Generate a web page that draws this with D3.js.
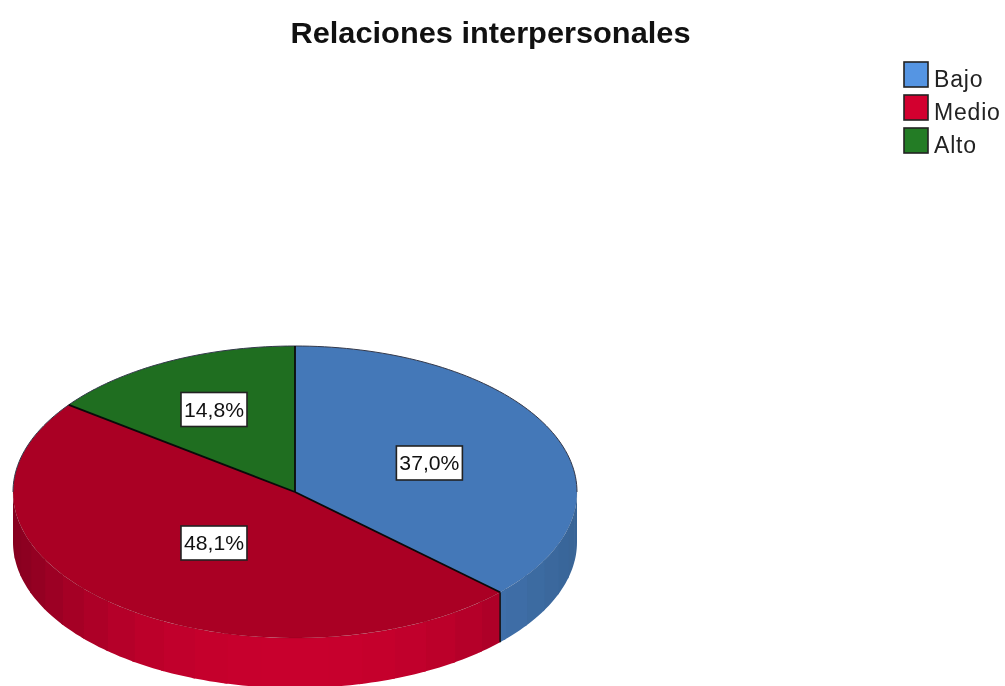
<!DOCTYPE html>
<html><head><meta charset="utf-8">
<script src="https://cdn.jsdelivr.net/npm/d3@7"></script>
<style>html,body{margin:0;padding:0;background:#fff;overflow:hidden}svg{display:block;filter:blur(0.45px)}text{font-family:"Liberation Sans",Arial,sans-serif}</style>
</head><body><svg id="c" width="1005" height="686"></svg>
<script>
const titleText = "Relaciones interpersonales";
const categories = ["Bajo", "Medio", "Alto"];
const values = [37.0, 48.1, 14.8];
const labels = ["37,0%", "48,1%", "14,8%"];
const legendColors = ["#5595E3", "#D3002F", "#237C25"];
const topColors = ["#4478B8", "#AA0024", "#1F6E20"];
const wallFront = ["#4478B8", "#C8002D", "#1F6E20"];
const wallSide = ["#386496", "#86001F", "#1F6E20"];
const labelRadius = [0.519, 0.447, 0.64];

const cx = 295, cy = 492, rx = 282, ry = 146, depth = 50;
const svg = d3.select("#c");
const sx = d3.scaleLinear().domain([-1, 1]).range([cx - rx, cx + rx]);
const sy = d3.scaleLinear().domain([-1, 1]).range([cy - ry, cy + ry]);
const total = d3.sum(values);
const arcs = d3.pie().value(d => d).sort(null).startAngle(0).endAngle(2 * Math.PI)(values.map(v => v / total * 100));
const pt = (a, r = 1) => [sx(r * Math.sin(a)), sy(-r * Math.cos(a))];

// side wall: only the front half (angles PI/2..3PI/2) is visible, drawn in stepped facets
const facetStep = Math.PI / 26;
arcs.forEach((d, i) => {
  const from = Math.max(d.startAngle, Math.PI / 2), to = Math.min(d.endAngle, 3 * Math.PI / 2);
  if (to <= from) return;
  const shade = d3.interpolateRgb(wallFront[i], wallSide[i]);
  const edges = d3.range(Math.ceil(from / facetStep), Math.ceil(to / facetStep)).map(k => k * facetStep).filter(a => a > from && a < to);
  const stops = [from, ...edges, to];
  d3.pairs(stops).forEach(([a, b], j, all) => {
    const end = j === all.length - 1 ? b : b + 0.012;
    const n = 6, top = d3.range(n + 1).map(k => pt(a + (end - a) * k / n));
    const bottom = top.map(p => [p[0], p[1] + depth]).reverse();
    const mid = (a + b) / 2;
    const t = Math.pow(Math.min(1, Math.abs(Math.sin(mid))), 2.6);
    svg.append("path").attr("d", d3.line()(top.concat(bottom)) + "Z").attr("fill", shade(t));
  });
});
// vertical seam between wall slices
arcs.forEach(d => {
  const a = d.endAngle;
  if (a > Math.PI / 2 && a < 3 * Math.PI / 2) {
    const p = pt(a);
    svg.append("line").attr("x1", p[0]).attr("y1", p[1]).attr("x2", p[0]).attr("y2", p[1] + depth)
      .attr("stroke", "#111").attr("stroke-width", 1.5);
  }
});

// top face
arcs.forEach((d, i) => {
  const pts = d3.range(0, 81).map(k => pt(d.startAngle + (d.endAngle - d.startAngle) * k / 80));
  svg.append("path").attr("d", d3.line()([[cx, cy], ...pts]) + "Z")
    .attr("fill", topColors[i]).attr("stroke", "none");
});
// outline of the upper rim (back half)
const rim = d3.range(0, 121).map(k => pt(-Math.PI / 2 + Math.PI * k / 120));
svg.append("path").attr("d", d3.line()(rim)).attr("fill", "none").attr("stroke", "#33384a").attr("stroke-width", 1);
// thin rim at the front
const rimFront = d3.range(0, 121).map(k => pt(Math.PI / 2 + Math.PI * k / 120));
svg.append("path").attr("d", d3.line()(rimFront)).attr("fill", "none").attr("stroke", "#000").attr("stroke-opacity", 0.1).attr("stroke-width", 0.8);
// radial separators
arcs.forEach(d => {
  const p = pt(d.startAngle);
  svg.append("line").attr("x1", cx).attr("y1", cy).attr("x2", p[0]).attr("y2", p[1])
    .attr("stroke", "#0a0a0a").attr("stroke-width", 1.8);
});

// value labels
arcs.forEach((d, i) => {
  const [x, y] = pt((d.startAngle + d.endAngle) / 2, labelRadius[i]);
  svg.append("rect").attr("x", x - 33).attr("y", y - 16).attr("width", 66).attr("height", 34)
    .attr("fill", "#fff").attr("stroke", "#222").attr("stroke-width", 1.6);
  svg.append("text").attr("x", x).attr("y", y + 8.5).attr("text-anchor", "middle")
    .attr("font-size", 21).attr("textLength", 60).attr("lengthAdjust", "spacingAndGlyphs")
    .attr("fill", "#111").text(labels[i]);
});

// title
svg.append("text").attr("x", 490.5).attr("y", 42.5).attr("text-anchor", "middle")
  .attr("font-size", 29).attr("font-weight", "bold").attr("textLength", 400).attr("lengthAdjust", "spacingAndGlyphs")
  .attr("fill", "#111").text(titleText);

// legend
const ly = d3.scaleBand().domain(categories).range([61, 160]);
categories.forEach((c, i) => {
  svg.append("rect").attr("x", 904).attr("y", ly(c) + 1).attr("width", 24).attr("height", 25)
    .attr("fill", legendColors[i]).attr("stroke", "#222").attr("stroke-width", 1.6);
  svg.append("text").attr("x", 934).attr("y", ly(c) + 26).attr("font-size", 23)
    .attr("letter-spacing", 0.8).attr("fill", "#222").text(c);
});
</script></body></html>
